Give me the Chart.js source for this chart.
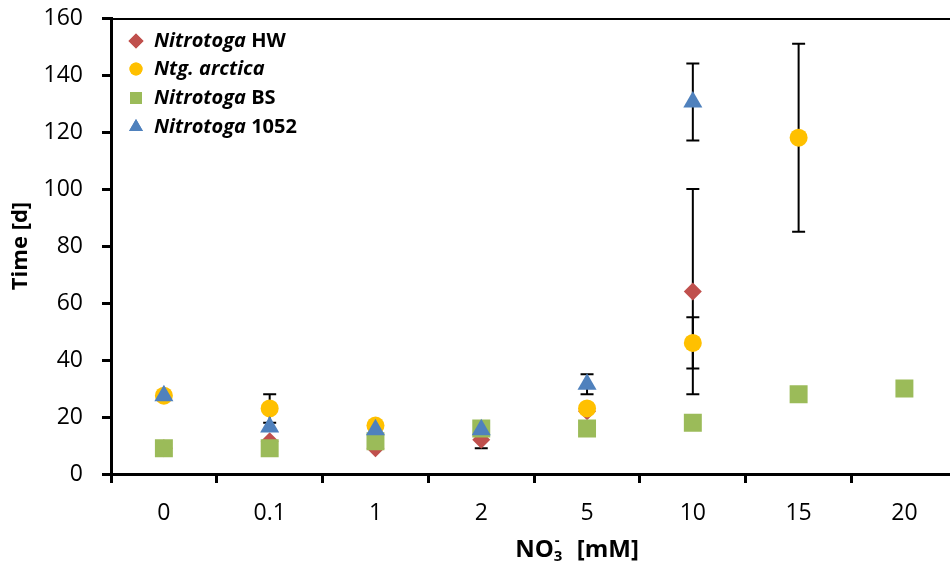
<!DOCTYPE html>
<html>
<head>
<meta charset="utf-8">
<script src="https://cdn.jsdelivr.net/npm/chart.js@4/dist/chart.umd.min.js"></script>
<style>
    body { margin: 0; overflow: hidden; background: #fff; }
    #chartContainer { width: 970px; height: 567px; }
</style>
</head>
<body>
<div id="chartContainer"><canvas id="myChart" width="970" height="567"></canvas></div>
<script>
// data //////////////////////////////////////////////////
var concentrations = ['0', '0.1', '1', '2', '5', '10', '15', '20'];
var yTicks = [0, 20, 40, 60, 80, 100, 120, 140, 160];

var seriesNames = ['Nitrotoga HW', 'Ntg. arctica', 'Nitrotoga BS', 'Nitrotoga 1052'];
var italicParts = ['Nitrotoga', 'Ntg. arctica', 'Nitrotoga', 'Nitrotoga'];

var hwDays = [9, 11.5, 9, 12, 22, 64, null, null];
var hwErr = [0, 0, 0, 3, 0, 36, 0, 0];
var arcticaDays = [27.5, 23, 17, null, 23, 46, 118, null];
var arcticaErr = [0, 5, 0, 0, 0, 9, 33, 0];
var bsDays = [9, 9, 11.5, 16, 16, 18, 28, 30];
var bsErr = [0, 0, 0, 0, 0, 0, 0, 0];
var n1052Days = [27.5, 16.5, 15.5, 15.5, 31.5, 130.5, null, null];
var n1052Err = [0, 0, 0, 0, 3.5, 13.5, 0, 0];

var fontName = "'Open Sans', 'Liberation Sans', sans-serif";

function makeSet(i, values, errors, color, style, radius, order) {
    return {
        label: seriesNames[i],
        data: values,
        errors: errors,
        showLine: false,
        pointStyle: style,
        pointRadius: radius,
        pointHoverRadius: radius,
        pointBackgroundColor: color,
        pointBorderColor: color,
        pointBorderWidth: 0,
        backgroundColor: color,
        borderColor: color,
        order: order
    };
}

// error bars, drawn under the markers
var errorBars = {
    id: 'errorBars',
    beforeDatasetsDraw: function (chart) {
        var ctx = chart.ctx;
        var xs = chart.scales.x, ys = chart.scales.y;
        ctx.save();
        ctx.strokeStyle = '#000';
        ctx.lineWidth = 2;
        chart.data.datasets.forEach(function (ds) {
            ds.data.forEach(function (v, j) {
                var e = ds.errors[j];
                if (v === null || !e) return;
                var x = xs.getPixelForValue(j);
                var top = ys.getPixelForValue(v + e);
                var bot = ys.getPixelForValue(Math.max(v - e, 0));
                ctx.beginPath();
                ctx.moveTo(x, top); ctx.lineTo(x, bot);
                ctx.moveTo(x - 6.5, top); ctx.lineTo(x + 6.5, top);
                ctx.moveTo(x - 6.5, bot); ctx.lineTo(x + 6.5, bot);
                ctx.stroke();
            });
        });
        ctx.restore();
    }
};

// frame, legend inside the plot and the x title with sub/superscript
var extras = {
    id: 'extras',
    afterDraw: function (chart) {
        var ctx = chart.ctx;
        var a = chart.chartArea;
        ctx.save();
        ctx.strokeStyle = '#000';
        ctx.lineWidth = 2;
        ctx.beginPath();
        ctx.moveTo(a.left, a.top + 1);
        ctx.lineTo(a.right - 1, a.top + 1);
        ctx.lineTo(a.right - 1, a.bottom);
        ctx.stroke();

        // legend
        var rowY = [41, 69, 98, 127];
        var legendRadius = [7.5, 6.5, 8.5, 8];
        chart.data.datasets.forEach(function (ds, i) {
            ctx.fillStyle = ds.pointBackgroundColor;
            Chart.helpers.drawPoint(ctx, {
                pointStyle: ds.pointStyle, radius: legendRadius[i], rotation: 0, borderWidth: 0
            }, 136, rowY[i]);
            ctx.fill();
            var name = ds.label;
            var ital = italicParts[i];
            var rest = name.substring(ital.length);
            ctx.fillStyle = '#000';
            ctx.textBaseline = 'middle';
            ctx.textAlign = 'left';
            ctx.font = 'italic bold 20px ' + fontName;
            ctx.fillText(ital, 154, rowY[i]);
            var w = ctx.measureText(ital).width;
            ctx.font = 'bold 20px ' + fontName;
            ctx.fillText(rest, 154 + w, rowY[i]);
        });

        // x axis title  NO3- [mM]
        var big = 'bold 24px ' + fontName, small = 'bold 15px ' + fontName;
        ctx.font = big;
        var wNO = ctx.measureText('NO').width;
        var wRest = ctx.measureText('  [mM]').width;
        ctx.font = small;
        var wSub = ctx.measureText('3').width;
        var total = wNO + wSub + 2 + wRest;
        var x0 = 577 - total / 2, y0 = 550;
        ctx.fillStyle = '#000';
        ctx.textBaseline = 'middle';
        ctx.font = big;
        ctx.fillText('NO', x0, y0);
        ctx.font = small;
        ctx.fillText('3', x0 + wNO, y0 + 7);
        ctx.fillText('-', x0 + wNO + 1, y0 - 9);
        ctx.font = big;
        ctx.fillText('  [mM]', x0 + wNO + wSub + 2, y0);
        ctx.restore();
    }
};

var ctx = document.getElementById('myChart').getContext('2d');
var chart = new Chart(ctx, {
    type: 'line',
    data: {
        labels: concentrations,
        datasets: [
            makeSet(0, hwDays, hwErr, '#C0504D', 'rectRot', 9, 4),
            makeSet(1, arcticaDays, arcticaErr, '#FFC000', 'circle', 9, 3),
            makeSet(2, bsDays, bsErr, '#9BBB59', 'rect', 12.7, 2),
            makeSet(3, n1052Days, n1052Err, '#4F81BD', 'triangle', 11, 1)
        ]
    },
    options: {
        responsive: false,
        animation: false,
        devicePixelRatio: 1,
        layout: { padding: { top: 18, right: 3, left: 0, bottom: 0 } },
        plugins: {
            legend: { display: false },
            tooltip: { enabled: false }
        },
        scales: {
            x: {
                type: 'category',
                offset: true,
                afterFit: function (scale) {
                    scale.height = 93;
                    scale.paddingLeft = 0; scale.paddingRight = 0;
                },
                grid: { offset: true, drawOnChartArea: false, tickLength: 9, color: '#000', lineWidth: 3 },
                border: { color: '#000', width: 3 },
                ticks: { color: '#000', padding: 17, maxRotation: 0, font: { family: fontName, size: 23 } }
            },
            y: {
                min: 0,
                max: 160,
                afterFit: function (scale) {
                    scale.width = 111;
                    scale.paddingTop = 0; scale.paddingBottom = 0;
                },
                afterBuildTicks: function (scale) {
                    scale.ticks = yTicks.map(function (v) { return { value: v }; });
                },
                grid: { drawOnChartArea: false, tickLength: 9, color: '#000', lineWidth: 3 },
                border: { color: '#000', width: 3 },
                ticks: { color: '#000', padding: 19, font: { family: fontName, size: 23 } },
                title: {
                    display: true,
                    text: 'Time [d]',
                    color: '#000',
                    padding: { top: 8, bottom: 0 },
                    font: { family: fontName, size: 22, weight: 'bold' }
                }
            }
        }
    },
    plugins: [errorBars, extras]
});
</script>
</body>
</html>
